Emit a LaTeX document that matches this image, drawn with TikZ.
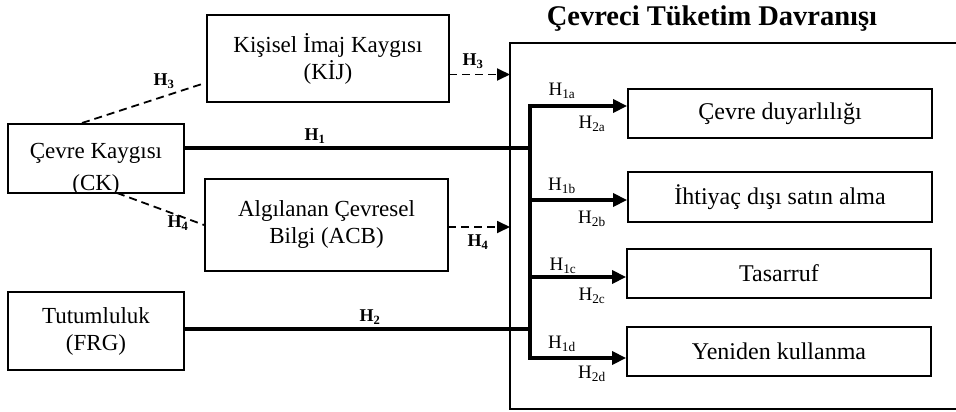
\documentclass[tikz,border=0pt]{standalone}
\usepackage{fontspec}
\setmainfont{Liberation Serif}
\usetikzlibrary{arrows.meta}
\tikzset{
  box/.style={draw, line width=1.8pt, rectangle, inner sep=0pt, align=center, font=\fontsize{23}{27}\selectfont},
  rbox/.style={box, font=\fontsize{24}{27}\selectfont},
  bigbox/.style={draw, line width=1.4pt},
  thickline/.style={line width=4pt},
  thickarrow/.style={line width=4pt, -{Triangle[length=14pt,width=13pt]}},
  dashline/.style={line width=1.8pt, dash pattern=on 8pt off 5pt},
  dasharrow/.style={line width=1.8pt, dash pattern=on 8pt off 5pt, -{Triangle[length=13pt,width=12pt]}},
  hlab/.style={font=\fontsize{18}{20}\selectfont\bfseries, inner sep=0pt},
  slab/.style={font=\fontsize{19}{20}\selectfont, inner sep=0pt},
}
\newcommand{\hsub}[1]{H\textsubscript{#1}}
\begin{document}
\begin{tikzpicture}[x=1pt,y=-1pt]
\useasboundingbox (0,0) rectangle (956,412);
% title
\node[font=\fontsize{28.5}{30}\selectfont\bfseries, inner sep=0pt] (title) at (712,19) {Çevreci Tüketim Davranışı};
% big box (right side runs off the picture)
\draw[bigbox] (962,43) -- (510,43) -- (510,409) -- (962,409);
% left boxes
\node[box, minimum width=242pt, minimum height=87pt] (kij) at (328,58.5) {Kişisel İmaj Kaygısı\\(KİJ)};
\begin{scope}
\clip (8,124) rectangle (184,193);
\node[font=\fontsize{23}{32}\selectfont, align=center, inner sep=0pt] (ckt) at (96,169) {Çevre Kaygısı\\(CK)};
\end{scope}
\node[box, minimum width=176pt, minimum height=69pt] (ck) at (96,158.5) {};
\node[box, minimum width=243pt, minimum height=92pt] (acb) at (326.5,225) {Algılanan Çevresel\\Bilgi (ACB)};
\node[box, minimum width=176pt, minimum height=78pt] (frg) at (96,331) {Tutumluluk\\(FRG)};
% right boxes
\node[rbox, minimum width=304pt, minimum height=49pt] (cd) at (780,113.5) {Çevre duyarlılığı};
\node[rbox, minimum width=304pt, minimum height=50pt] (ih) at (780,197) {İhtiyaç dışı satın alma};
\node[rbox, minimum width=304pt, minimum height=49pt] (ts) at (779,273.5) {Tasarruf};
\node[rbox, minimum width=304pt, minimum height=49pt] (yk) at (779,351.5) {Yeniden kullanma};
% bus coordinates
\coordinate (b1) at (529.5,106);
\coordinate (b2) at (529.5,200);
\coordinate (b3) at (529.5,277);
\coordinate (b4) at (529.5,358);
\coordinate (h1e) at (529.5,148);
\coordinate (h2e) at (529.5,329);
% H1 and H2 lines
\draw[thickline] (ck.east |- h1e) -- (h1e);
\draw[thickline] (frg.east |- h2e) -- (h2e);
% bus
\draw[line width=4pt, line cap=rect] (b1) -- (b4);
\draw[thickarrow] (b1) -- (cd.west |- b1);
\draw[thickarrow] (b2) -- (ih.west |- b2);
\draw[thickarrow] (b3) -- (ts.west |- b3);
\draw[thickarrow] (b4) -- (yk.west |- b4);
% dashed connectors
\coordinate (ckt1) at (82,123);
\coordinate (kijw) at (202,84);
\draw[dashline] (ckt1) -- (kijw);
\coordinate (ckb) at (117,193);
\draw[dashline] (ckb) -- (acb.west);
\coordinate (kije) at (449,74.5);
\coordinate (bb1) at (510,74.5);
\draw[dasharrow] (kije) -- (bb1);
\coordinate (acbe) at (448,227);
\coordinate (bb2) at (510,227);
\draw[dasharrow] (acbe) -- (bb2);
% labels
\node[hlab] (l3a) at (164,81) {\hsub{3}};
\node[hlab] (l3b) at (473,61) {\hsub{3}};
\node[hlab] (l4a) at (178,223) {\hsub{4}};
\node[hlab] (l4b) at (478,242) {\hsub{4}};
\node[hlab] (l1) at (315,136) {\hsub{1}};
\node[hlab] (l2) at (370,317) {\hsub{2}};
\node[slab] (l1a) at (562,91) {\hsub{1a}};
\node[slab] (l2a) at (592,124) {\hsub{2a}};
\node[slab] (l1b) at (562,186) {\hsub{1b}};
\node[slab] (l2b) at (592,219) {\hsub{2b}};
\node[slab] (l1c) at (563,266) {\hsub{1c}};
\node[slab] (l2c) at (592,296) {\hsub{2c}};
\node[slab] (l1d) at (562,344) {\hsub{1d}};
\node[slab] (l2d) at (592,374) {\hsub{2d}};
\end{tikzpicture}
\end{document}
